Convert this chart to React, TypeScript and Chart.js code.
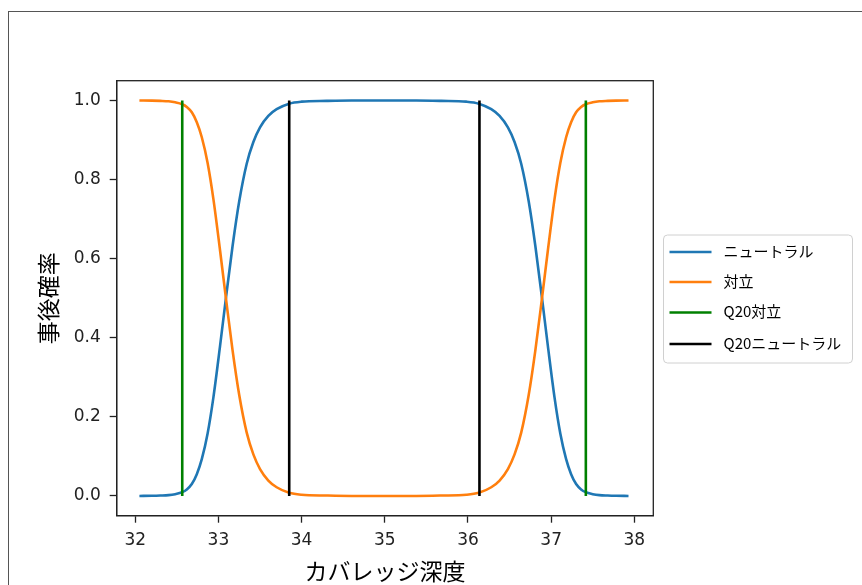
import React, { useEffect, useRef } from "react";
import { Chart, registerables } from "chart.js";

Chart.register(...registerables);

// Coverage depth (x) sampled along the curves
const coverage = [
  32.05, 32.2, 32.3, 32.4, 32.48, 32.565, 32.62, 32.68, 32.74, 32.8, 32.87, 32.94, 33.02, 33.09,
  33.17, 33.25, 33.34, 33.42, 33.5, 33.6, 33.7, 33.85, 34.0, 34.3, 34.6, 34.99,
  35.38, 35.68, 35.98, 36.13, 36.28, 36.38, 36.48, 36.56, 36.64, 36.73, 36.81, 36.89,
  36.96, 37.04, 37.11, 37.18, 37.24, 37.3, 37.36, 37.415, 37.5, 37.58, 37.68, 37.78, 37.93,
];

// Posterior probability: neutral
const neutral = [
  0, 0.0004, 0.001, 0.002, 0.0045, 0.0095, 0.0165, 0.03, 0.055, 0.093, 0.158, 0.25, 0.38, 0.5,
  0.632, 0.745, 0.84, 0.895, 0.932, 0.961, 0.978, 0.992, 0.997, 0.999, 1, 1,
  1, 0.999, 0.997, 0.992, 0.978, 0.961, 0.932, 0.895, 0.84, 0.745, 0.632, 0.5,
  0.38, 0.25, 0.158, 0.093, 0.055, 0.03, 0.0165, 0.0095, 0.0045, 0.002, 0.001, 0.0004, 0,
];

// Posterior probability: opposed
const opposed = [
  1, 0.9996, 0.999, 0.998, 0.9955, 0.9905, 0.9835, 0.97, 0.945, 0.907, 0.842, 0.75, 0.62, 0.5,
  0.368, 0.255, 0.16, 0.105, 0.068, 0.039, 0.022, 0.008, 0.003, 0.001, 0, 0,
  0, 0.001, 0.003, 0.008, 0.022, 0.039, 0.068, 0.105, 0.16, 0.255, 0.368, 0.5,
  0.62, 0.75, 0.842, 0.907, 0.945, 0.97, 0.9835, 0.9905, 0.9955, 0.998, 0.999, 0.9996, 1,
];

// Q20 threshold positions
const q20Opposed = [32.565, 37.417];
const q20Neutral = [33.851, 36.138];

const labels = ["ニュートラル", "対立", "Q20対立", "Q20ニュートラル"];
const colors = ["#1f77b4", "#ff7f0e", "#008000", "#000000"];

const xTicks = [32, 33, 34, 35, 36, 37, 38];
const yTicks = [0, 0.2, 0.4, 0.6, 0.8, 1.0];

export default function App() {
  const ref = useRef<HTMLCanvasElement>(null);

  useEffect(() => {
    document.body.style.overflow = "hidden";
    const canvas = ref.current!;

    const curve = (label: string, color: string, ys: number[], order: number) => ({
      label,
      data: coverage.map((x, i) => ({ x, y: ys[i] })),
      borderColor: color,
      backgroundColor: color,
      borderWidth: 2.6,
      pointRadius: 0,
      showLine: true,
      fill: false,
      cubicInterpolationMode: "monotone" as const,
      order,
    });

    const vline = (label: string, color: string, x: number, order: number) => ({
      label,
      data: [
        { x, y: 0 },
        { x, y: 1 },
      ],
      borderColor: color,
      backgroundColor: color,
      borderWidth: 2.6,
      pointRadius: 0,
      showLine: true,
      fill: false,
      order,
    });

    const datasets: any[] = [
      curve(labels[0], colors[0], neutral, 6),
      curve(labels[1], colors[1], opposed, 5),
      ...q20Opposed.map((x) => vline(labels[2], colors[2], x, 4)),
      ...q20Neutral.map((x) => vline(labels[3], colors[3], x, 2)),
    ];

    const framePlugin = {
      id: "frame",
      afterDatasetsDraw(chart: any) {
        const { ctx, chartArea: a } = chart;
        ctx.save();
        ctx.strokeStyle = "#222";
        ctx.lineWidth = 1.3;
        ctx.strokeRect(a.left, a.top, a.right - a.left, a.bottom - a.top);
        ctx.restore();
      },
    };

    const legendPlugin = {
      id: "boxLegend",
      afterDraw(chart: any) {
        const { ctx } = chart;
        const seen: string[] = [];
        const items: { label: string; color: string }[] = [];
        chart.data.datasets.forEach((d: any) => {
          if (!seen.includes(d.label)) {
            seen.push(d.label);
            items.push({ label: d.label, color: d.borderColor });
          }
        });
        const bx = 663.5, by = 235, bw = 189, bh = 128, r = 4;
        ctx.save();
        ctx.beginPath();
        ctx.moveTo(bx + r, by);
        ctx.lineTo(bx + bw - r, by);
        ctx.arcTo(bx + bw, by, bx + bw, by + r, r);
        ctx.lineTo(bx + bw, by + bh - r);
        ctx.arcTo(bx + bw, by + bh, bx + bw - r, by + bh, r);
        ctx.lineTo(bx + r, by + bh);
        ctx.arcTo(bx, by + bh, bx, by + bh - r, r);
        ctx.lineTo(bx, by + r);
        ctx.arcTo(bx, by, bx + r, by, r);
        ctx.closePath();
        ctx.fillStyle = "rgba(255,255,255,0.8)";
        ctx.fill();
        ctx.strokeStyle = "#d0d0d0";
        ctx.lineWidth = 1;
        ctx.stroke();
        const rowY = [252, 282, 312.5, 344];
        items.forEach((it, i) => {
          const y = rowY[i];
          ctx.strokeStyle = it.color;
          ctx.lineWidth = 2.6;
          ctx.beginPath();
          ctx.moveTo(669.5, y);
          ctx.lineTo(711.5, y);
          ctx.stroke();
          ctx.fillStyle = "#000";
          ctx.font = '15px "Noto Sans CJK JP"';
          ctx.textBaseline = "middle";
          ctx.textAlign = "left";
          ctx.fillText(it.label, 723.5, y - 1);
        });
        ctx.restore();
      },
    };

    const tickFont = { family: "DejaVu Sans", size: 17 };
    const titleFont = { family: "Noto Sans CJK JP", size: 23 };

    const chart = new Chart(canvas, {
      type: "scatter",
      data: { datasets },
      options: {
        animation: false,
        responsive: false,
        devicePixelRatio: 1,
        layout: { padding: { top: 80.7, right: 208.7, left: 0, bottom: 0 } },
        plugins: {
          legend: { display: false },
          tooltip: { enabled: false },
        },
        scales: {
          x: {
            type: "linear",
            min: 31.777,
            max: 38.228,
            afterFit: (s: any) => {
              s.height = 69.3;
            },
            afterBuildTicks: (s: any) => {
              s.ticks = xTicks.map((v) => ({ value: v }));
            },
            ticks: {
              font: tickFont,
              color: "#222",
              padding: 8,
              autoSkip: false,
              maxRotation: 0,
              callback: (v: any) => String(v),
            },
            grid: {
              drawOnChartArea: false,
              drawTicks: true,
              tickLength: 7,
              tickColor: "#222",
              tickWidth: 1.3,
            },
            border: { display: true, color: "#222", width: 1.3 },
            title: {
              display: true,
              text: "カバレッジ深度",
              font: titleFont,
              color: "#000",
              padding: { top: 0, bottom: 0 },
            },
          },
          y: {
            type: "linear",
            min: -0.05,
            max: 1.05,
            afterFit: (s: any) => {
              s.width = 116.7;
            },
            afterBuildTicks: (s: any) => {
              s.ticks = yTicks.map((v) => ({ value: v }));
            },
            ticks: {
              font: tickFont,
              color: "#222",
              padding: 9,
              autoSkip: false,
              callback: (v: any) => Number(v).toFixed(1),
            },
            grid: {
              drawOnChartArea: false,
              drawTicks: true,
              tickLength: 7,
              tickColor: "#222",
              tickWidth: 1.3,
            },
            border: { display: true, color: "#222", width: 1.3 },
            title: {
              display: true,
              text: "事後確率",
              font: titleFont,
              color: "#000",
              padding: { top: 34.9, bottom: 0 },
            },
          },
        },
      } as any,
      plugins: [framePlugin, legendPlugin],
    });

    return () => chart.destroy();
  }, []);

  return (
    <>
      <div
        style={{
          position: "fixed",
          left: 8,
          top: 11,
          width: 1200,
          height: 1000,
          border: "1px solid #555",
          zIndex: 0,
        }}
      />
      <canvas
        ref={ref}
        width={862}
        height={585}
        style={{ position: "fixed", left: 0, top: 0, width: 862, height: 585, zIndex: 1 }}
      />
    </>
  );
}
